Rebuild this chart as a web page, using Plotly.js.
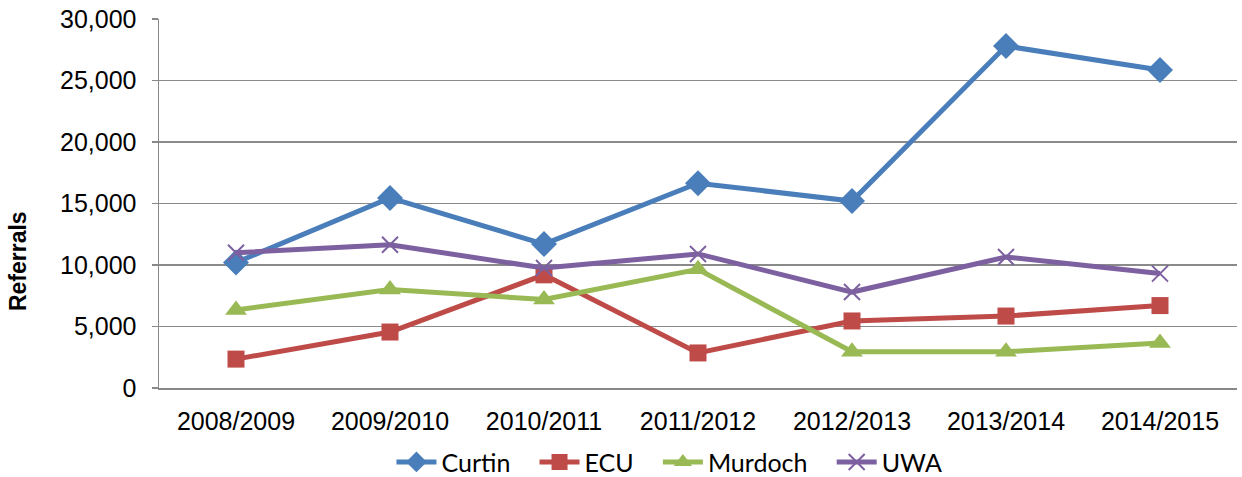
<!DOCTYPE html>
<html>
<head>
<meta charset="utf-8">
<script src="https://cdn.plot.ly/plotly-3.0.1.min.js"></script>
<style>html,body{margin:0;padding:0;background:#fff;}#chart{width:1242px;height:477px;}</style>
</head>
<body>
<div id="chart"></div>
<script>
var years = ["2008/2009","2009/2010","2010/2011","2011/2012","2012/2013","2013/2014","2014/2015"];
var curtin  = [10200, 15450, 11700, 16650, 15200, 27800, 25850];
var ecu     = [2350, 4550, 9200, 2850, 5450, 5850, 6700];
var murdoch = [6350, 8000, 7200, 9650, 2950, 2950, 3650];
var uwa     = [11000, 11650, 9750, 10900, 7800, 10650, 9300];
var seriesNames = ["Curtin", "ECU", "Murdoch", "UWA"];
var yTicks  = [0, 5000, 10000, 15000, 20000, 25000, 30000];
var yTickText = ["0","5,000","10,000","15,000","20,000","25,000","30,000"];
var yTitle = "Referrals";

var PAD = '\u00a0\u00a0\u00a0';
function series(name, y, color, symbol, size, mline, last) {
  return {
    type: 'scatter', mode: 'lines+markers', name: last ? name : name + PAD, x: years, y: y,
    line: {color: color, width: 5},
    marker: {symbol: symbol, size: size, color: color, line: mline || {width: 0}},
    cliponaxis: false
  };
}

var data = [
  series(seriesNames[0], curtin, '#4A7EBB', 'diamond', 20),
  series(seriesNames[1], ecu, '#BE4B48', 'square', 17),
  series(seriesNames[2], murdoch, '#98B954', 'triangle-up', 19),
  series(seriesNames[3], uwa, '#7D60A0', 'x-thin-open', 16, {width: 2, color: '#7D60A0'}, true)
];

var AR = 'Liberation Sans';

var layout = {
  width: 1242, height: 477,
  margin: {l: 159, r: 5, t: 19, b: 89, autoexpand: false},
  paper_bgcolor: '#fff', plot_bgcolor: '#fff',
  font: {family: AR, color: '#000'},
  showlegend: true,
  legend: {orientation: 'h', x: 0.539, xanchor: 'center', xref: 'container',
           y: 0.031, yanchor: 'middle', yref: 'container',
           font: {family: 'Lato', size: 25, color: '#000'},
           itemwidth: 40, tracegroupgap: 0},
  xaxis: {
    type: 'category', range: [-0.5, 6.5], showgrid: false, zeroline: false,
    showline: true, linecolor: '#888', linewidth: 1.5,
    ticks: '', tickfont: {family: AR, size: 25}, ticklabelstandoff: 10
  },
  yaxis: {
    range: [0, 30000], tickvals: yTicks, ticktext: yTickText,
    showgrid: true, gridcolor: '#8a8a8a', gridwidth: 1.5, zeroline: false,
    showline: true, linecolor: '#888', linewidth: 1.5,
    ticks: 'outside', ticklen: 6, tickcolor: '#888', tickwidth: 1.5,
    tickfont: {family: AR, size: 25}, ticklabelstandoff: 10
  },
  annotations: [{
    text: '<b>' + yTitle + '</b>', textangle: -90, showarrow: false,
    xref: 'paper', yref: 'paper', x: -0.1308, y: 0.344,
    xanchor: 'center', yanchor: 'middle',
    font: {family: AR, size: 23, color: '#000'}
  }]
};

Plotly.newPlot('chart', data, layout, {displayModeBar: false, staticPlot: true});
</script>
</body>
</html>
